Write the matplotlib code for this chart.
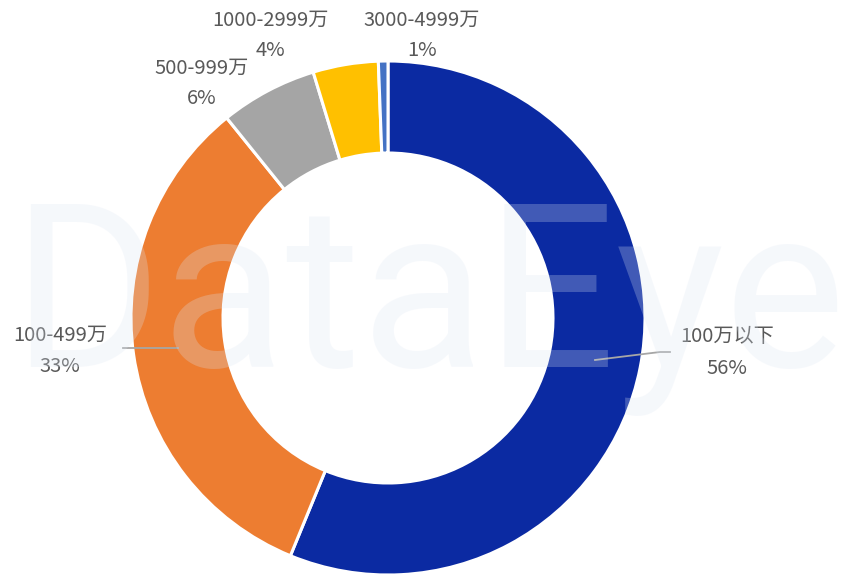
import matplotlib
matplotlib.use("Agg")
import matplotlib.pyplot as plt

plt.rcParams['font.family'] = ['Noto Sans CJK SC', 'DejaVu Sans']

categories = ["100万以下", "100-499万", "500-999万", "1000-2999万", "3000-4999万"]
values = [56.2, 33.0, 6.1, 4.1, 0.6]
pct_labels = ["56%", "33%", "6%", "4%", "1%"]
colors = ["#0B2AA2", "#ED7D31", "#A5A5A5", "#FFC000", "#4472C4"]

W, H = 845, 576
fig = plt.figure(figsize=(W / 100, H / 100), dpi=100)
fig.patch.set_facecolor("white")

cx, cy, r = 388, 318, 257
ax = fig.add_axes([(cx - r) / W, (H - cy - r) / H, 2 * r / W, 2 * r / H])
ax.pie(values, colors=colors, startangle=90, counterclock=False, radius=1.0,
       wedgeprops=dict(width=0.358, edgecolor="white", linewidth=2.2))
ax.set_xlim(-1, 1)
ax.set_ylim(-1, 1)
ax.set_aspect("equal")
ax.axis("off")

txt_color = "#595959"
fs = 14.5

def fx(px):
    return px / W

def fy(py):
    return 1 - py / H

label_pos = [(727, 337, 368), (60, 335, 367), (202, 68, 98), (270, 20, 50), (422, 20, 50)]
for cat, pct, (x, y1, y2) in zip(categories, pct_labels, label_pos):
    fig.text(fx(x), fy(y1), cat, ha="center", va="center", fontsize=fs, color=txt_color)
    fig.text(fx(x), fy(y2), pct, ha="center", va="center", fontsize=fs, color=txt_color)

# leader lines
fig.add_artist(plt.Line2D([fx(123), fx(178)], [fy(348), fy(348)], color="#A6A6A6", lw=1.3))
fig.add_artist(plt.Line2D([fx(595), fx(660), fx(670)], [fy(360), fy(352), fy(352)], color="#A6A6A6", lw=1.3))

# watermark
fig.text(fx(428), fy(308), "DataEye", ha="center", va="center", fontsize=165,
         color="#DCE6F3", alpha=0.26, family=["Roboto", "DejaVu Sans"], fontweight="normal")

fig.savefig("out.png", dpi=100, facecolor="white")
